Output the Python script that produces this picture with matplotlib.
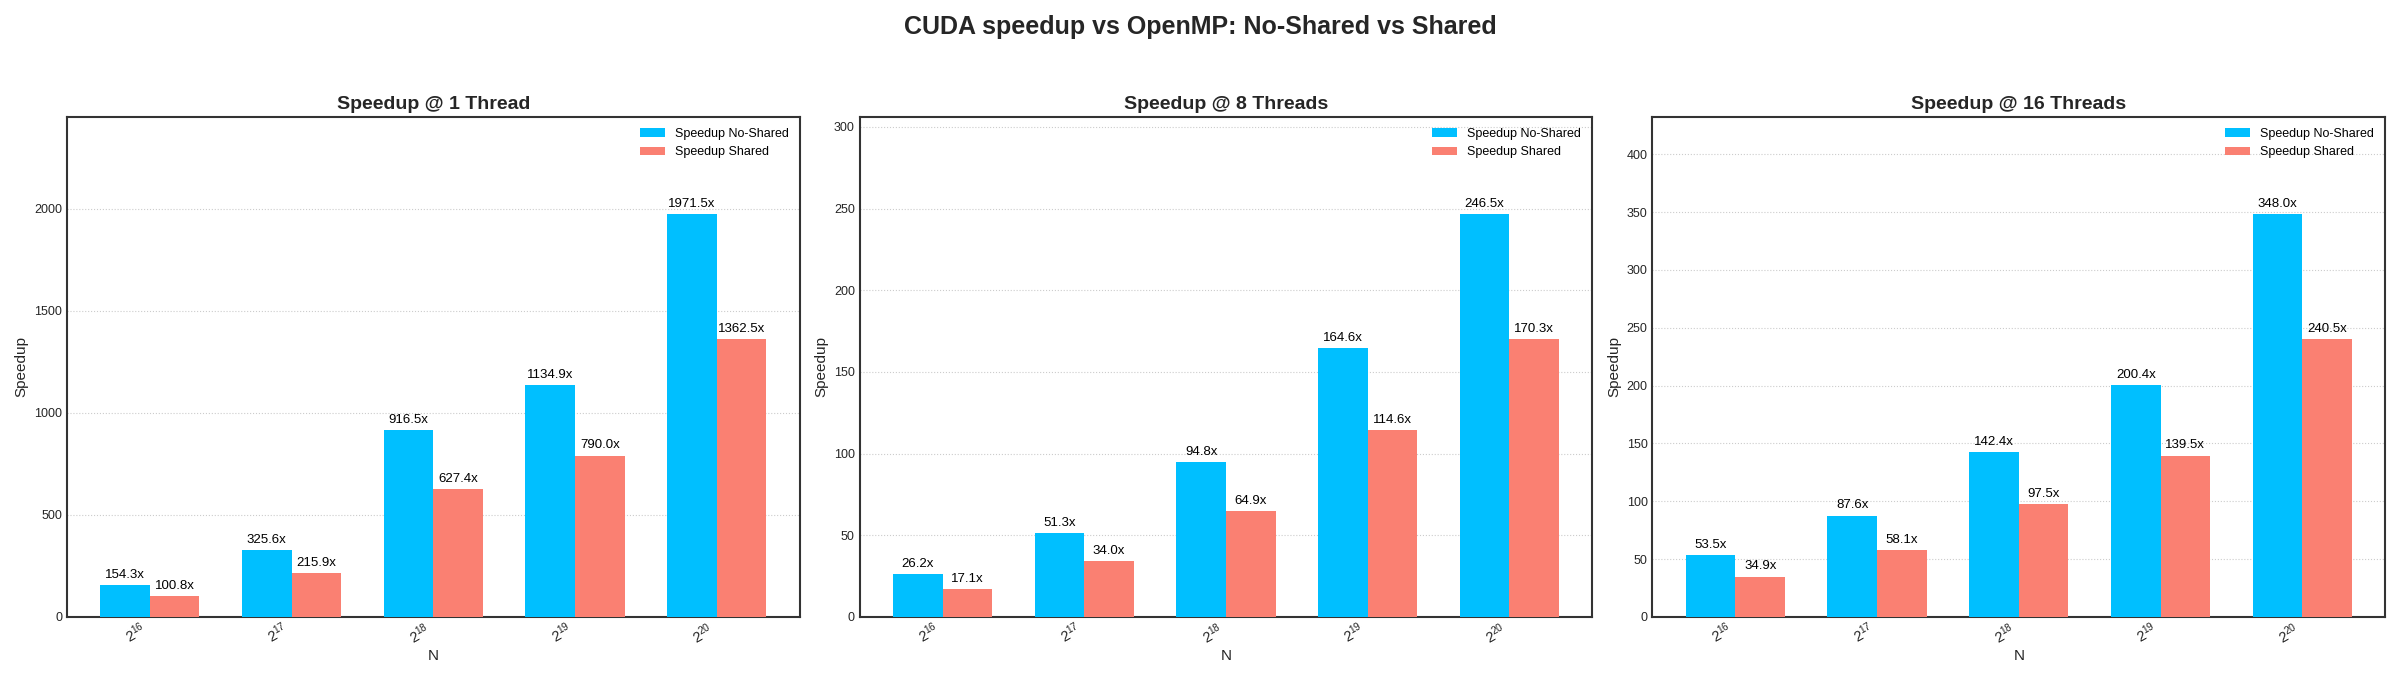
import matplotlib
matplotlib.use("Agg")
import matplotlib.pyplot as plt
import numpy as np

categories = [r"$2^{16}$", r"$2^{17}$", r"$2^{18}$", r"$2^{19}$", r"$2^{20}$"]
panel_titles = ["Speedup @ 1 Thread", "Speedup @ 8 Threads", "Speedup @ 16 Threads"]

noshared_1 = [154.3, 325.6, 916.5, 1134.9, 1971.5]
shared_1 = [100.8, 215.9, 627.4, 790.0, 1362.5]
noshared_8 = [26.2, 51.3, 94.8, 164.6, 246.5]
shared_8 = [17.1, 34.0, 64.9, 114.6, 170.3]
noshared_16 = [53.5, 87.6, 142.4, 200.4, 348.0]
shared_16 = [34.9, 58.1, 97.5, 139.5, 240.5]

series = [(noshared_1, shared_1), (noshared_8, shared_8), (noshared_16, shared_16)]

plt.rcParams['font.family'] = ['Liberation Sans', 'DejaVu Sans']
plt.rcParams['mathtext.fontset'] = 'custom'
plt.rcParams['mathtext.rm'] = 'Liberation Sans'
plt.rcParams['mathtext.it'] = 'Liberation Sans:italic'

text_c = '#262626'
fig, axes = plt.subplots(1, 3, figsize=(24, 7), dpi=100)
fig.subplots_adjust(left=0.0279, right=0.9938, top=0.833, bottom=0.1186, wspace=0.082)

x = np.arange(len(categories))
w = 0.35
for ax, title, (ns, sh) in zip(axes, panel_titles, series):
    b1 = ax.bar(x - w / 2, ns, w, color='#00BFFF', label='Speedup No-Shared', zorder=3)
    b2 = ax.bar(x + w / 2, sh, w, color='#FA8072', label='Speedup Shared', zorder=3)
    for bars, vals in ((b1, ns), (b2, sh)):
        for r, v in zip(bars, vals):
            ax.annotate(f"{v:.1f}x", (r.get_x() + r.get_width() / 2, r.get_height()),
                        xytext=(0, 3), textcoords='offset points', ha='center', va='bottom',
                        fontsize=9.5, color='black')
    ax.set_ylim(0, max(ns) * 1.242)
    ax.set_xticks(x)
    ax.set_xticklabels(categories, rotation=30, ha='right', fontsize=10.5, color=text_c)
    ax.tick_params(axis='y', labelsize=9, labelcolor=text_c, length=0)
    ax.tick_params(axis='x', length=0, pad=2)
    ax.set_title(title, fontsize=14, fontweight='bold', color=text_c, pad=6)
    ax.set_xlabel('N', fontsize=11, color=text_c, labelpad=2)
    ax.set_ylabel('Speedup', fontsize=11, color=text_c)
    ax.grid(axis='y', linestyle=':', color='#cccccc', linewidth=0.8, zorder=0)
    for s in ax.spines.values():
        s.set_color('#333333')
        s.set_linewidth(1.5)
    ax.legend(loc='upper right', frameon=False, fontsize=9)

fig.suptitle('CUDA speedup vs OpenMP: No-Shared vs Shared', fontsize=18, fontweight='bold',
             color=text_c, y=0.962, va='center')
fig.savefig('out.png', dpi=100)
